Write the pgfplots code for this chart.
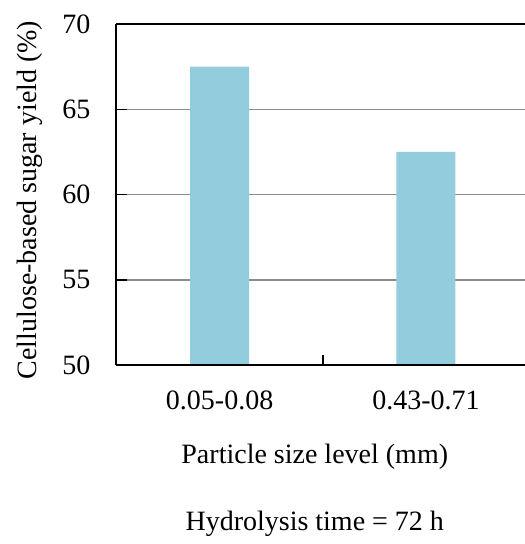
\documentclass[border=0pt]{standalone}
\usepackage{pgfplots}
\pgfplotsset{compat=1.18}
\usepackage{fontspec}
\setmainfont{Liberation Serif}
\definecolor{barblue}{RGB}{147,205,221}
\definecolor{gridgray}{RGB}{140,140,140}
\begin{document}
\begin{tikzpicture}
\useasboundingbox (-116.5pt,-179pt) rectangle (408.5pt,365pt);
\begin{axis}[
  scale only axis,
  width=408.5pt, height=341pt,
  xmin=-0.5, xmax=1.48,
  ymin=50, ymax=70,
  ytick={50,55,60,65,70},
  ymajorgrids,
  grid style={gridgray, line width=1.5pt},
  axis x line=box,
  axis y line*=left,
  axis line style={black, line width=2pt},
  xtick={0.5}, xticklabels={},
  extra x ticks={0,1},
  extra x tick labels={0.05-0.08,0.43-0.71},
  extra x tick style={major tick length=0pt, grid=none},
  xtick pos=bottom, ytick pos=left,
  tick align=inside,
  major tick length=10pt,
  tick style={black, line width=1.5pt},
  font=\fontsize{28}{34}\selectfont,
  tick label style={font=\fontsize{28}{34}\selectfont},
  /pgf/number format/assume math mode=true,
  xticklabel style={anchor=base, inner sep=0pt, yshift=-44pt},
  yticklabel style={anchor=east, inner sep=0pt, xshift=-26pt},
  ylabel={Cellulose-based sugar yield (\%)},
  ylabel style={at={(axis description cs:0,0.484)}, anchor=base, yshift=79.5pt, inner sep=0pt},
  xlabel={Particle size level (mm)},
  xlabel style={at={(axis cs:0.461,50)}, anchor=base, yshift=-98pt, inner sep=0pt},
  clip mode=individual,
]
\addplot[ybar, bar width=59pt, bar shift=0pt, fill=barblue, draw=none] coordinates {(0,67.5) (1,62.5)};
\draw[black, line width=2pt] (rel axis cs:0,0) -- (rel axis cs:1,0);
\node[anchor=base, inner sep=0pt, font=\fontsize{28}{34}\selectfont] at (axis cs:0.461,50) [yshift=-165pt] {Hydrolysis time = 72 h};
\end{axis}
\end{tikzpicture}
\end{document}
